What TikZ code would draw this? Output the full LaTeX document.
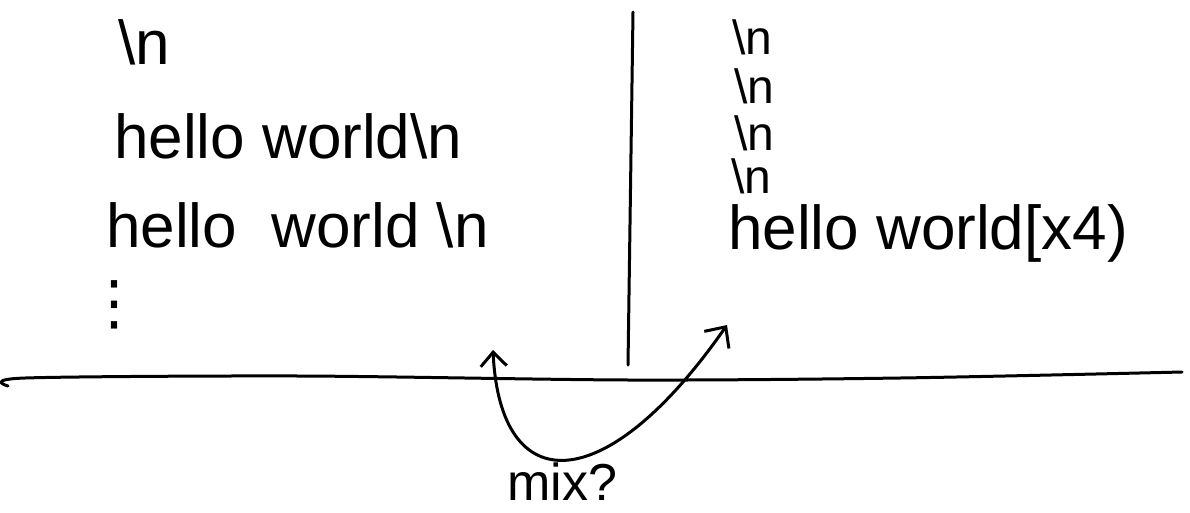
\documentclass[tikz,border=0pt]{standalone}
\usepackage{fontspec}
\setmainfont{Liberation Sans}
\newfontfamily\symfont{DejaVu Sans}
\usepackage{tikz}
\usetikzlibrary{arrows.meta,positioning,calc}

\tikzset{
  hand/.style={font=\fontsize{62}{70}\selectfont, inner sep=0pt, anchor=base west},
  esc/.style={hand, font=\fontsize{48}{50}\selectfont},
  pen/.style={line width=3pt, line cap=round, line join=round},
}

\begin{document}
\begin{tikzpicture}[x=1pt,y=-1pt]
        \def\nl{\textbackslash n}
        \useasboundingbox (0,0) rectangle (1190,512);
        % Left side: lines before
        \node[hand] (lnl)  at (118,64)  {\nl};
        \node[hand] (lhw1) at (114,158) {hello world\nl};
        \node[hand] (lhw2) at (106,247) {hello\ \ world\ \nl};
        \node[font=\symfont\fontsize{60}{64}\selectfont, inner sep=0pt] (ldots) at (114,305) {⋮};
        % Right side: lines after
        \node[esc] (rnl1) at (732,54)  {\nl};
        \node[esc] (rnl2) at (734,103) {\nl};
        \node[esc] (rnl3) at (734,150) {\nl};
        \node[esc] (rnl4) at (731,193) {\nl};
        \node[hand] (rhw)  at (728,249) {hello world[x4)};
        % Divider and base line
        \coordinate (divtop) at (633,12);
        \coordinate (divbot) at (628,365);
        \draw[pen] (divtop) -- (divbot);
        \draw[pen] plot[smooth] coordinates {(8,386) (25,378) (300,376) (630,380) (900,378) (1182,372)};
        % Mix arrow
        \coordinate (mixl) at (493,350);
        \coordinate (mixr) at (727,325);
        \draw[pen,{Straight Barb[length=14pt,width=26pt]}-{Straight Barb[length=16pt,width=30pt]}]
          (mixl) .. controls (500,500) and (605,500) .. (mixr);
        \node[hand,font=\fontsize{52}{56}\selectfont] (mix) at (507,500) {mix?};
      \end{tikzpicture}
\end{document}
